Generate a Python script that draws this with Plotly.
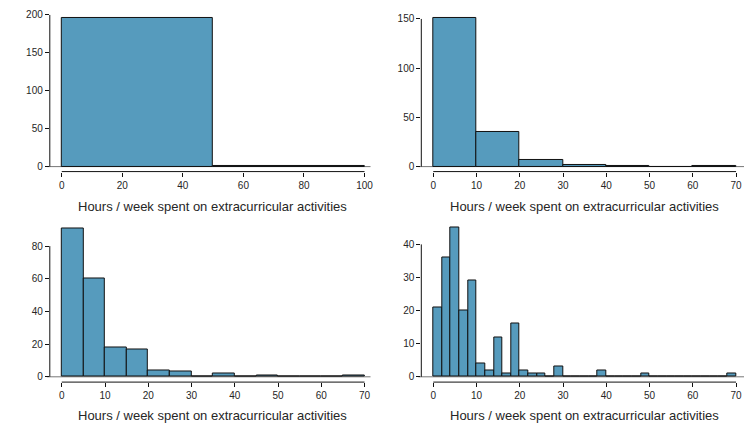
import plotly.graph_objects as go

W, H = 747, 423

# Histogram counts of hours / week spent on extracurricular activities,
# shown with four different bin widths.
edges_50 = [0, 50, 100]
counts_50 = [196, 1]

edges_10 = [0, 10, 20, 30, 40, 50, 60, 70]
counts_10 = [151, 35, 7, 2, 1, 0, 1]

edges_5 = [0, 5, 10, 15, 20, 25, 30, 35, 40, 45, 50, 55, 60, 65, 70]
counts_5 = [91, 60, 18, 17, 4, 3, 0, 2, 0, 1, 0, 0, 0, 1]

edges_2 = list(range(0, 72, 2))
counts_2 = [21, 36, 45, 20, 29, 4, 2, 12, 1, 16, 2, 1, 1, 0, 3,
            0, 0, 0, 0, 2, 0, 0, 0, 0, 1, 0, 0, 0, 0, 0, 0, 0, 0, 0, 1]

x_ticks_100 = [0, 20, 40, 60, 80, 100]
x_ticks_70 = [0, 10, 20, 30, 40, 50, 60, 70]
y_ticks_1 = [0, 50, 100, 150, 200]
y_ticks_2 = [0, 50, 100, 150]
y_ticks_3 = [0, 20, 40, 60, 80]
y_ticks_4 = [0, 10, 20, 30, 40]

x_title = "Hours / week spent on extracurricular activities"

BAR = "#569BBD"
TXT = "#262626"
LINE = "#111111"
FONT = "Liberation Sans, Arial, sans-serif"


def px_x(p):
    return p / W


def px_y(p):
    return 1 - p / H


# (edges, counts, x ticks, y ticks, x pixel of value 0, px per x unit,
#  left px, right px, y px of value 0, px per y unit, top px, bottom px, title center)
panels = [
    (edges_50, counts_50, x_ticks_100, y_ticks_1, 62, 3.04, 50, 372, 167, 0.76, 8, 172, (213, 207)),
    (edges_10, counts_10, x_ticks_70, y_ticks_2, 435, 4.343, 423, 747, 167, 0.9867, 8, 172, (587, 207)),
    (edges_5, counts_5, x_ticks_70, y_ticks_3, 62, 4.343, 50, 372, 377.7, 1.6375, 218, 383, (213, 416)),
    (edges_2, counts_2, x_ticks_70, y_ticks_4, 435, 4.343, 423, 747, 377.7, 3.3175, 218, 383, (587, 416)),
]

fig = go.Figure()
shapes = []
annotations = []

for i, (edges, counts, xt, yt, x0px, xs, lpx, rpx, y0px, ys, tpx, bpx, tc) in enumerate(panels, start=1):
    xa = "x" if i == 1 else f"x{i}"
    ya = "y" if i == 1 else f"y{i}"
    xkey = "xaxis" if i == 1 else f"xaxis{i}"
    ykey = "yaxis" if i == 1 else f"yaxis{i}"

    centers = [(a + b) / 2 for a, b in zip(edges[:-1], edges[1:])]
    widths = [b - a for a, b in zip(edges[:-1], edges[1:])]

    fig.add_trace(go.Bar(
        x=centers, y=counts, width=widths,
        marker=dict(color=BAR, line=dict(color=LINE, width=1)),
        xaxis=xa, yaxis=ya, showlegend=False, hoverinfo="x+y",
    ))

    xr = [(lpx - x0px) / xs, (rpx - x0px) / xs]
    yr = [-(bpx - y0px) / ys, (y0px - tpx) / ys]

    fig.layout[xkey] = dict(
        domain=[px_x(lpx), px_x(rpx)], range=xr, anchor=ya,
        showgrid=False, zeroline=False, showline=False,
        tickmode="array", tickvals=xt, ticks="outside", ticklen=4,
        tickcolor=LINE, tickwidth=1,
        tickfont=dict(family=FONT, size=10, color=TXT),
    )
    fig.layout[ykey] = dict(
        domain=[px_y(bpx), px_y(tpx)], range=yr, anchor=xa,
        showgrid=False, zeroline=False, showline=False,
        tickmode="array", tickvals=yt, ticks="outside", ticklen=4,
        tickcolor=LINE, tickwidth=1,
        tickfont=dict(family=FONT, size=10, color=TXT),
    )

    # baseline at zero across the plotting region
    shapes.append(dict(type="line", xref="paper", yref=ya,
                       x0=px_x(lpx - 3), x1=px_x(rpx), y0=0, y1=0,
                       line=dict(color="#777777", width=1), layer="below"))
    # x axis line spanning first to last tick (paper coords, so it is not clipped)
    shapes.append(dict(type="line", xref="paper", yref="paper",
                       x0=px_x(x0px + xt[0] * xs), x1=px_x(x0px + xt[-1] * xs),
                       y0=px_y(bpx), y1=px_y(bpx),
                       line=dict(color=LINE, width=1)))
    # y axis line spanning first to last tick
    shapes.append(dict(type="line", xref="paper", yref="paper",
                       x0=px_x(lpx), x1=px_x(lpx),
                       y0=px_y(y0px - yt[0] * ys), y1=px_y(y0px - yt[-1] * ys),
                       line=dict(color=LINE, width=1)))

    annotations.append(dict(text=x_title, xref="paper", yref="paper",
                            x=px_x(tc[0]), y=px_y(tc[1]),
                            xanchor="center", yanchor="middle", showarrow=False,
                            font=dict(family=FONT, size=13, color=TXT)))

fig.update_layout(
    width=W, height=H,
    margin=dict(l=0, r=0, t=0, b=0),
    paper_bgcolor="white", plot_bgcolor="white",
    bargap=0, shapes=shapes, annotations=annotations,
)

fig.write_html("out.html")
